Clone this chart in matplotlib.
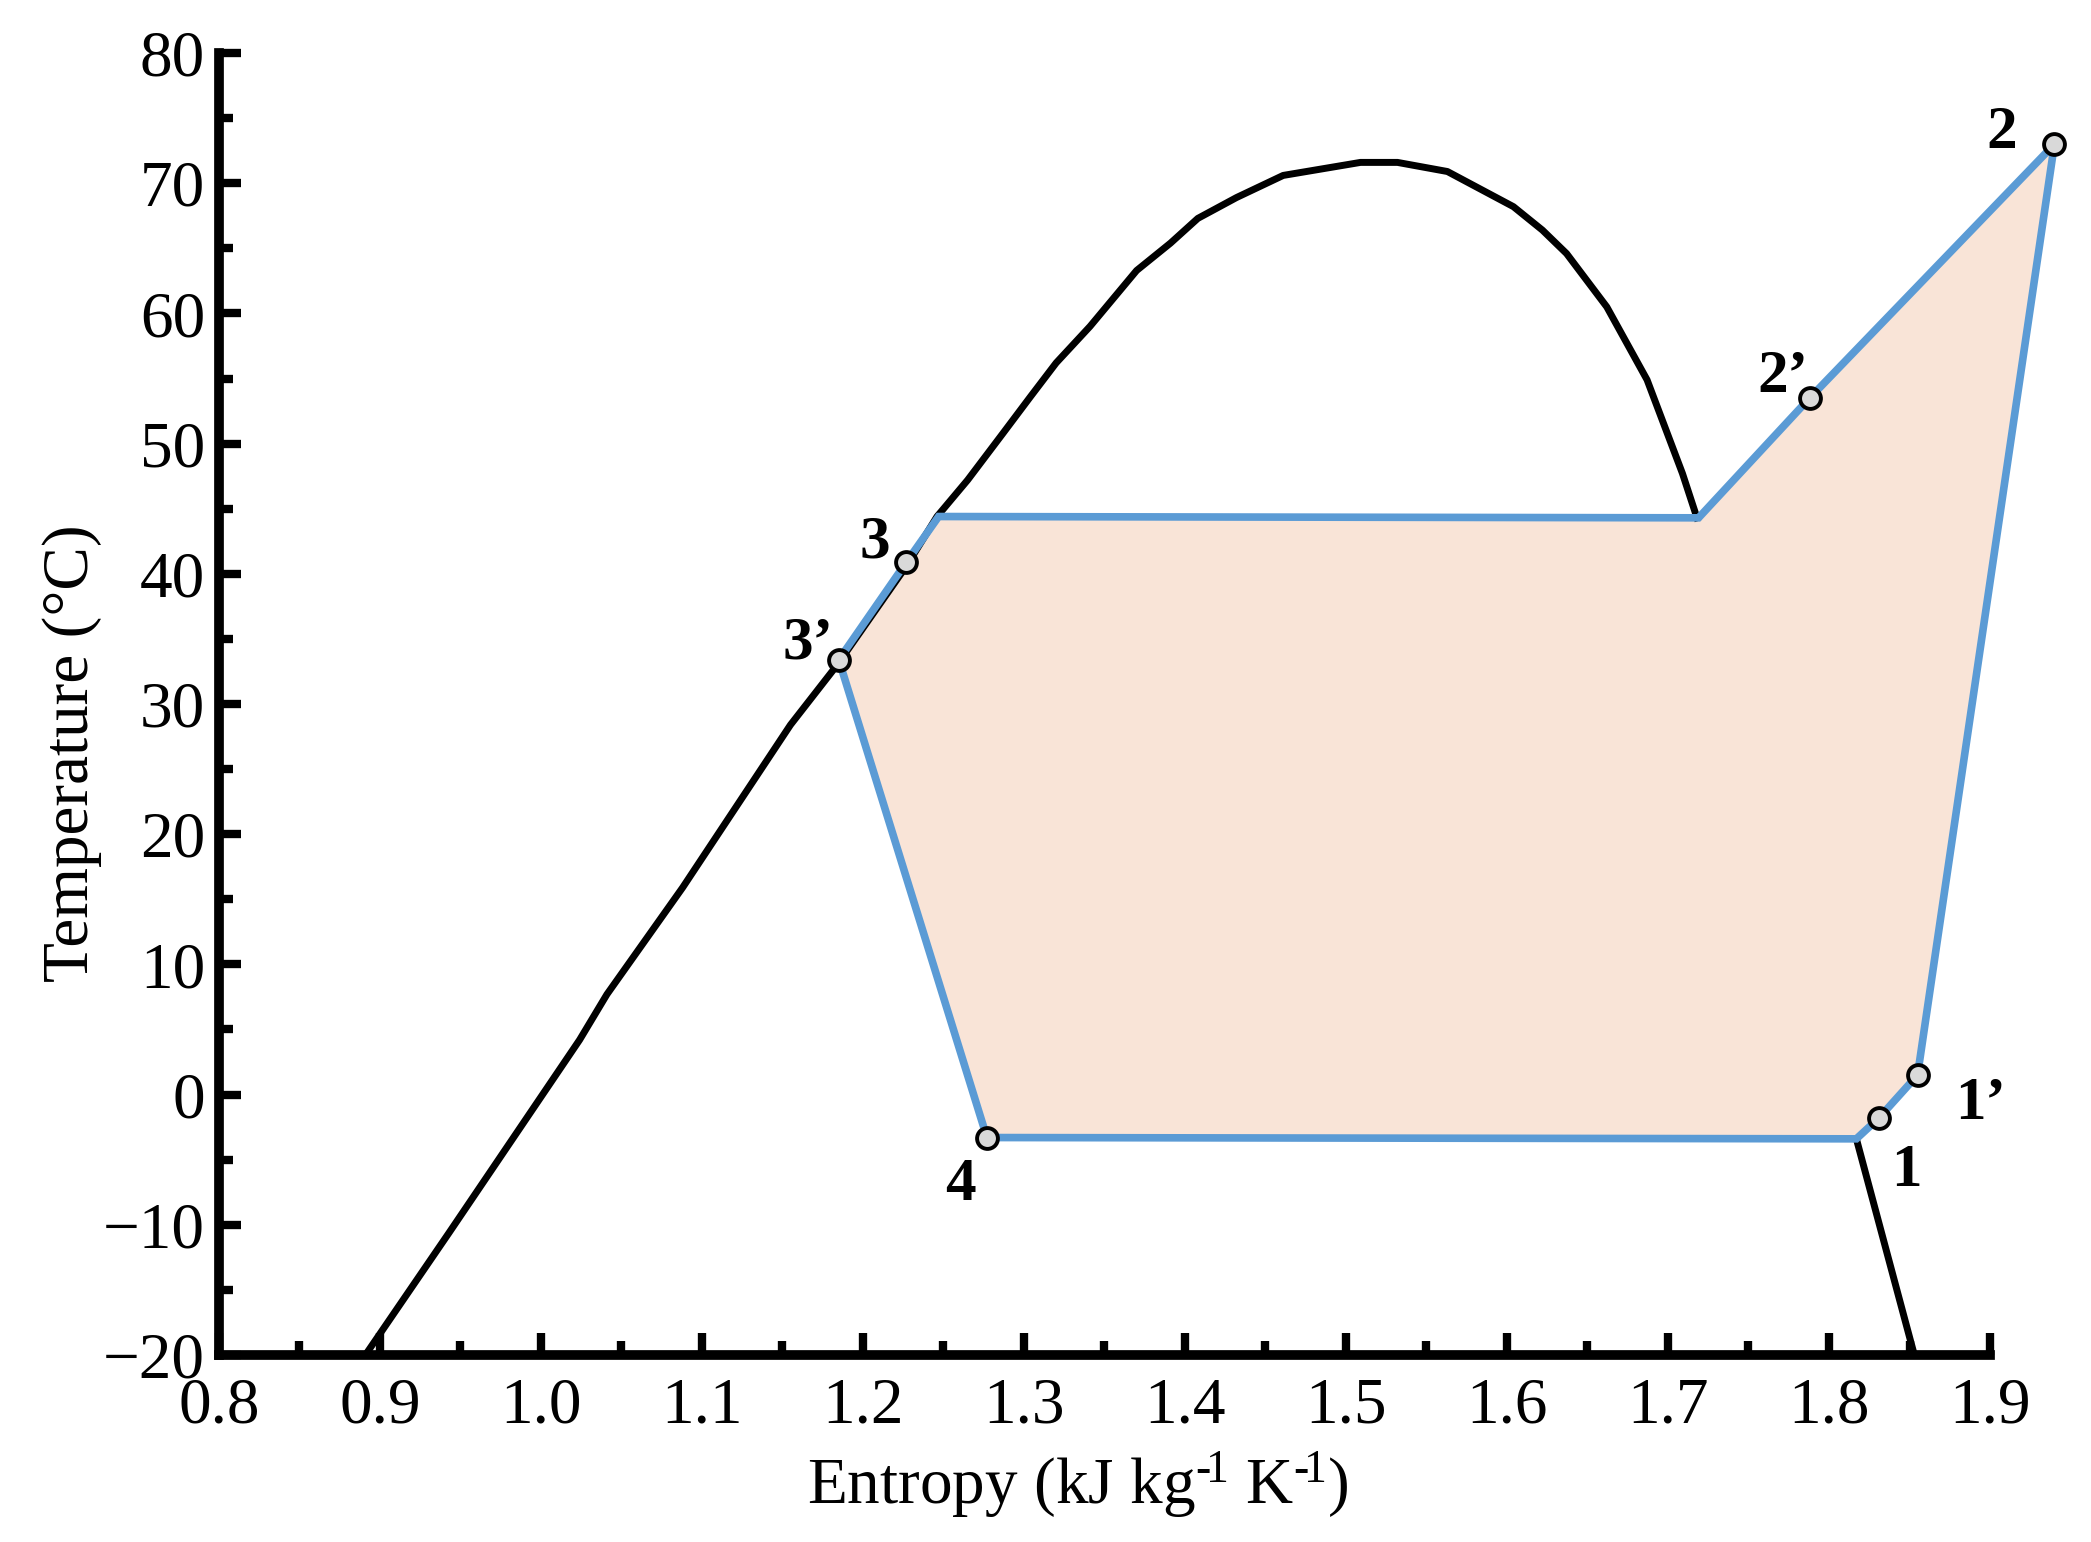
import matplotlib
matplotlib.use("Agg")
import matplotlib.pyplot as plt
from matplotlib.ticker import MultipleLocator

plt.rcParams["font.family"] = ["Liberation Serif", "DejaVu Serif"]
plt.rcParams["mathtext.fontset"] = "custom"
plt.rcParams["mathtext.rm"] = "Liberation Serif"
plt.rcParams["mathtext.it"] = "Liberation Serif:italic"

# saturation dome (liquid side -> critical point -> vapour side)
dome_s = [0.891, 0.943, 1.024, 1.041, 1.088, 1.155, 1.184, 1.227, 1.246, 1.265,
          1.287, 1.304, 1.320, 1.341, 1.370, 1.391, 1.408, 1.432, 1.461, 1.509,
          1.532, 1.563, 1.604, 1.622, 1.637, 1.662, 1.687, 1.709, 1.718]
dome_T = [-20.0, -10.6, 4.2, 7.7, 15.9, 28.4, 33.0, 40.6, 44.4, 47.2,
          50.8, 53.6, 56.2, 59.0, 63.3, 65.4, 67.3, 68.9, 70.6, 71.6,
          71.6, 70.9, 68.2, 66.4, 64.6, 60.5, 54.9, 47.7, 44.3]

# vapour line below the evaporator
vap_s = [1.817, 1.853]
vap_T = [-3.4, -20.0]

# cycle path 3' -> 3 -> condenser -> 2' -> 2 -> 1' -> 1 -> evaporator -> 4 -> 3'
cycle_s = [1.185, 1.227, 1.247, 1.719, 1.788, 1.940, 1.855, 1.831, 1.817, 1.277, 1.185]
cycle_T = [33.4, 40.9, 44.4, 44.3, 53.5, 73.0, 1.5, -1.8, -3.4, -3.3, 33.4]

# labelled state points
pt_names = ["1", "1\u2019", "2", "2\u2019", "3", "3\u2019", "4"]
pt_s = [1.831, 1.855, 1.940, 1.788, 1.227, 1.185, 1.277]
pt_T = [-1.8, 1.5, 73.0, 53.5, 40.9, 33.4, -3.3]
pt_offsets = [(20, -38), (45, -21), (-38, 8), (-19, 15), (-23, 14), (-22, 12), (-19, -34)]

BLUE = "#5B9BD5"
FILL = "#F9E4D7"

fig = plt.figure(figsize=(20.91, 15.42), dpi=100)
ax = fig.add_axes([0.1047, 0.1213, 0.847, 0.8443])

ax.fill(cycle_s, cycle_T, color=FILL, lw=0, zorder=1, clip_on=False)
ax.plot(dome_s, dome_T, color="black", lw=5, zorder=2, solid_joinstyle="round")
ax.plot(vap_s, vap_T, color="black", lw=5, zorder=2)
ax.plot(cycle_s, cycle_T, color=BLUE, lw=5.5, zorder=3, clip_on=False,
        solid_joinstyle="miter")
ax.plot(pt_s, pt_T, ls="none", marker="o", ms=15, mfc="#D9D9D9", mec="black",
        mew=2.8, zorder=4, clip_on=False)

for name, s, t, off in zip(pt_names, pt_s, pt_T, pt_offsets):
    ax.annotate(name, (s, t), xytext=off, textcoords="offset points",
                ha="center", va="center", fontsize=44, fontweight="bold",
                annotation_clip=False)

ax.set_xlim(0.8, 1.9)
ax.set_ylim(-20, 80)
ax.xaxis.set_major_locator(MultipleLocator(0.1))
ax.xaxis.set_minor_locator(MultipleLocator(0.05))
ax.yaxis.set_major_locator(MultipleLocator(10))
ax.yaxis.set_minor_locator(MultipleLocator(5))
ax.xaxis.set_major_formatter(plt.FuncFormatter(lambda v, p: f"{v:.1f}"))

for side in ["top", "right"]:
    ax.spines[side].set_visible(False)
for side in ["left", "bottom"]:
    ax.spines[side].set_linewidth(7)
    ax.spines[side].set_capstyle("projecting")

ax.tick_params(which="major", direction="in", length=16, width=6, labelsize=47, pad=10)
ax.tick_params(which="minor", direction="in", length=10, width=6)
ax.tick_params(axis="x", which="major", pad=16)

ax.set_xlabel("Entropy (kJ kg$^{\u2010\\!1}$ K$^{\u2010\\!1}$)", fontsize=47)
ax.set_ylabel("Temperature (\u00b0C)", fontsize=47)
ax.xaxis.set_label_coords(0.485, -0.072)
ax.yaxis.set_label_coords(-0.066, 0.462)

fig.savefig("out.png", dpi=100)
